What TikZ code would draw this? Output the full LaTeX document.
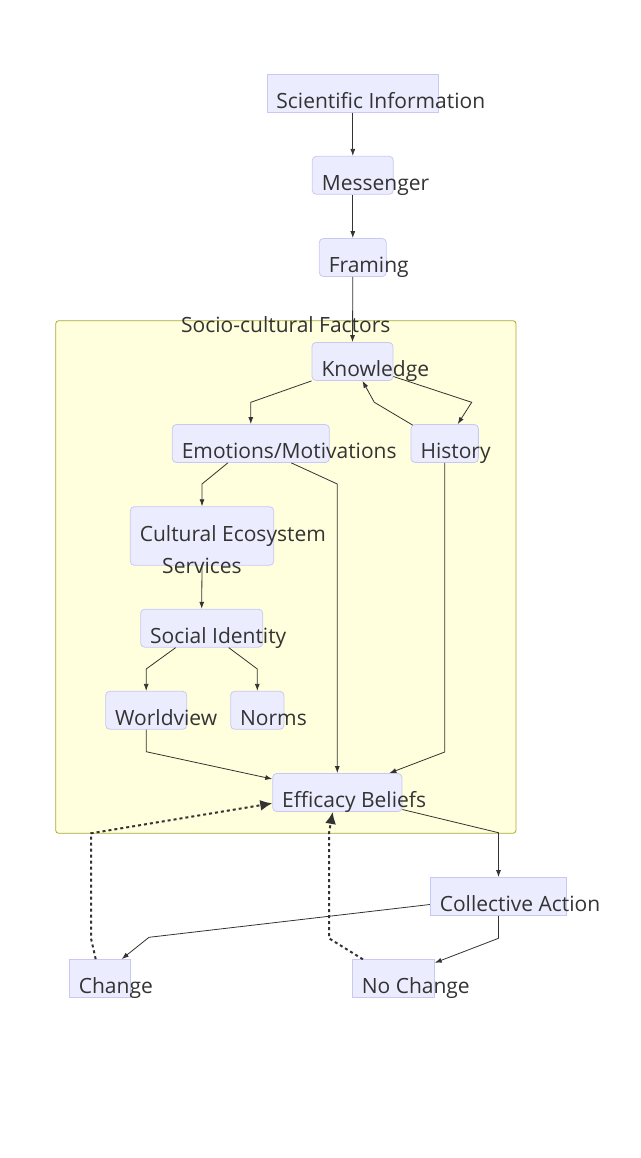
\documentclass[tikz,border=0pt]{standalone}
\usepackage{fontspec}
\setmainfont{Open Sans}
\usepackage{xcolor}
\usepackage{tikz}
\usetikzlibrary{positioning,arrows.meta,calc}
\definecolor{nodefill}{HTML}{ECECFF}
\definecolor{nodeline}{RGB}{200,200,245}
\definecolor{groupfill}{HTML}{FFFFDE}
\definecolor{groupline}{HTML}{AAAA33}
\definecolor{inkgray}{HTML}{333333}

\begin{document}
\begin{tikzpicture}[
  x=1pt, y=-1pt,
  font=\fontsize{21}{25}\selectfont,
  box/.style={draw=nodeline, fill=nodefill, rounded corners=4pt, minimum height=38pt, inner sep=0pt, line width=0.8pt},
  sbox/.style={box, sharp corners},
  lbl/.style={anchor=base west, inner sep=0pt, text=inkgray},
  group/.style={draw=groupline, fill=groupfill, rounded corners=3pt, inner sep=0pt, line width=0.8pt},
  arr/.style={-{Latex[length=7pt,width=5pt]}, line width=0.8pt, draw=inkgray},
  farr/.style={-{Latex[length=12pt,width=11pt]}, line width=2pt, draw=inkgray, dash pattern=on 3pt off 3pt},
  ]
  \useasboundingbox (0,0) rectangle (640,1158);
  % socio-cultural group
  \node[group, minimum width=460.3pt, minimum height=512.6pt] (socio) at (285.85,577) {};
  \node[lbl, anchor=base] (socio-t) at (285.8,332.7) {Socio-cultural Factors};
  % information chain
  \node[sbox, minimum width=171.7pt] (sci) at (352.8,93.3) {};
  \node[lbl] (sci-t) at ($(sci.west)+(9.7,15)$) {Scientific Information};
  \node[box, minimum width=81pt] (msg) at (352.8,175.3) {};
  \node[lbl] (msg-t) at ($(msg.west)+(9.7,15)$) {Messenger};
  \node[box, minimum width=67pt] (frm) at (352.8,257.5) {};
  \node[lbl] (frm-t) at ($(frm.west)+(9.7,15)$) {Framing};
  % inside the group
  \node[box, minimum width=81pt] (know) at (352.5,361.5) {};
  \node[lbl] (know-t) at ($(know.west)+(9.7,15)$) {Knowledge};
  \node[box, minimum width=157pt] (emo) at (250.8,443.5) {};
  \node[lbl] (emo-t) at ($(emo.west)+(9.7,15)$) {Emotions/Motivations};
  \node[box, minimum width=67.3pt] (hist) at (444.7,443.5) {};
  \node[lbl] (hist-t) at ($(hist.west)+(9.7,15)$) {History};
  \node[box, minimum width=143.4pt, minimum height=58.6pt] (ces) at (202,536) {};
  \node[lbl] (ces-t1) at ($(ces.west)+(9.7,5.7)$) {Cultural Ecosystem};
  \node[lbl, anchor=base] (ces-t2) at ($(ces.south)+(0,8)$) {Services};
  \node[box, minimum width=122pt] (soc) at (201.7,628.2) {};
  \node[lbl] (soc-t) at ($(soc.west)+(9.7,15)$) {Social Identity};
  \node[box, minimum width=81pt] (wv) at (146.2,710.3) {};
  \node[lbl] (wv-t) at ($(wv.west)+(9.7,15)$) {Worldview};
  \node[box, minimum width=53.3pt] (norms) at (257.3,710.3) {};
  \node[lbl] (norms-t) at ($(norms.west)+(9.7,15)$) {Norms};
  \node[box, minimum width=129.3pt] (eff) at (337.3,792.5) {};
  \node[lbl] (eff-t) at ($(eff.west)+(9.7,15)$) {Efficacy Beliefs};
  % outcomes
  \node[sbox, minimum width=136.4pt] (coll) at (498.5,896.5) {};
  \node[lbl] (coll-t) at ($(coll.west)+(9.7,15)$) {Collective Action};
  \node[sbox, minimum width=60.7pt] (chg) at (99.7,978.5) {};
  \node[lbl] (chg-t) at ($(chg.west)+(9.7,15)$) {Change};
  \node[sbox, minimum width=82pt] (nochg) at (393.3,978.7) {};
  \node[lbl] (nochg-t) at ($(nochg.west)+(9.7,15)$) {No Change};
  % edges
  \draw[arr] (sci.south) -- (msg.north);
  \draw[arr] (msg.south) -- (frm.north);
  \draw[arr] (frm.south) -- (know.north);
  \draw[arr] (know.south west) -- (250.8,402.3) -- (emo.north);
  \draw[arr] ($(know.east)+(0,15)$) -- (471.7,402.3) -- ($(hist.north)+(13,0)$);
  \draw[arr] ($(hist.north west)+(2,1)$) -- (374.3,402.3) -- ($(know.south)+(10,0)$);
  \draw[arr] ($(emo.south)+(-23,0)$) -- (202,484) -- (ces.north);
  \draw[arr] ($(emo.south)+(40.5,0)$) -- (337.3,484) -- (eff.north);
  \draw[arr] (hist.south) -- (444.7,752) -- ($(eff.north east)+(-13,0)$);
  \draw[arr] (ces.south) -- (soc.north);
  \draw[arr] ($(soc.south)+(-26,0)$) -- (146.2,669) -- (wv.north);
  \draw[arr] ($(soc.south)+(27,0)$) -- (257.3,669) -- (norms.north);
  \draw[arr] (wv.south) -- (146.2,751.7) -- ($(eff.west)+(0,-13.5)$);
  \draw[arr] ($(eff.east)+(0,17)$) -- (498.5,832.7) -- (coll.north);
  \draw[arr] ($(coll.west)+(0,8)$) -- (149,937.3) -- ($(chg.north)+(22,0)$);
  \draw[arr] (coll.south) -- (498.5,938.3) -- ($(nochg.north east)+(0,3.5)$);
  % feedback
  \draw[farr] ($(chg.north)+(-4,0)$) -- (91,938.3) -- (91,833.3) -- ($(eff.west)+(0,10.8)$);
  \draw[farr] ($(nochg.north west)+(11,0)$) -- (329,938.3) -- (329,833) -- ($(eff.south)+(-4.6,0)$);
\end{tikzpicture}
\end{document}
